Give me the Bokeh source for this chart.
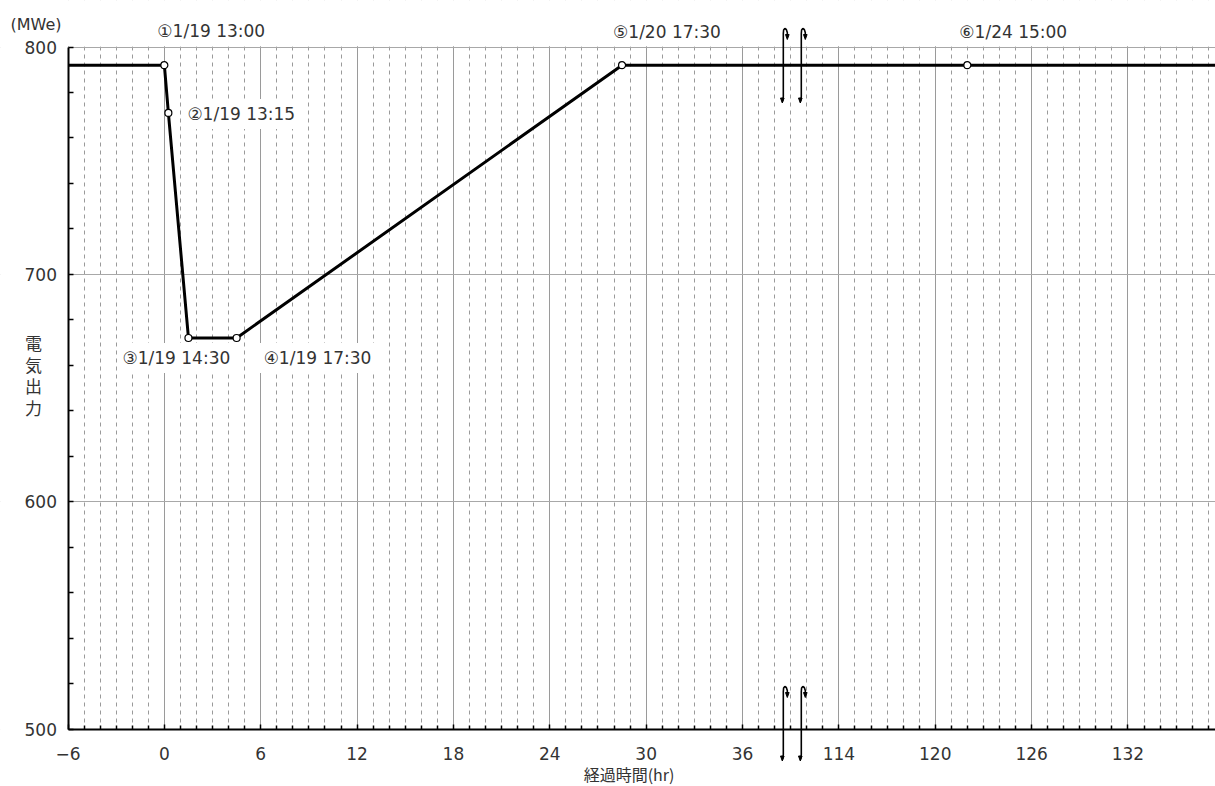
from bokeh.plotting import figure
from bokeh.models import FixedTicker, Label, Range1d
from bokeh.embed import file_html
from bokeh.resources import INLINE

# ---------------- data ----------------
line_hours = [-6, 0, 0.25, 1.5, 4.5, 28.5, 122, 138]
line_mw = [792, 792, 771, 672, 672, 792, 792, 792]

event_hours = [0, 0.25, 1.5, 4.5, 28.5, 122]
event_mw = [792, 771, 672, 672, 792, 792]
event_labels = ["①1/19 13:00", "②1/19 13:15", "③1/19 14:30",
                "④1/19 17:30", "⑤1/20 17:30", "⑥1/24 15:00"]

x_tick_hours = [-6, 0, 6, 12, 18, 24, 30, 36, 114, 120, 126, 132]
y_ticks = [500, 600, 700, 800]
y_unit = "(MWe)"
y_title = ["電", "気", "出", "力"]
x_title = "経過時間(hr)"

# axis break: hours 40..111 are skipped
SKIP = 72
BREAK_AT = 39.1
X_MIN, Y_MIN, Y_MAX = -6, 500, 800


def pos(h):
    return h if h < 60 else h - SKIP


def hour_label(h):
    return "−6" if h == -6 else str(h)


# ---------------- styles / layout ----------------
W, H = 1215, 786
FRAME_L, FRAME_T, FRAME_B = 67.5, 46.5, 728.5   # pixel positions of -6 / 800 / 500
PX_U = 16.06
PX_MW = (FRAME_B - FRAME_T) / (Y_MAX - Y_MIN)
X0 = X_MIN - FRAME_L / PX_U
X1 = X_MIN + (W - FRAME_L) / PX_U
Y1 = Y_MAX + FRAME_T / PX_MW
Y0 = Y_MIN - (H - FRAME_B) / PX_MW

label_style = [  # x_offset, y_offset, background
    (-7, 34, None), (14, -1, "white"), (-71, -20, "white"),
    (22, -20, "white"), (-9, 33, None), (-8, 33, None)]
TXT = "#333333"
NUM_FONT = "DejaVu Sans"
CJK_FONT = "Noto Sans CJK JP"

p = figure(width=W, height=H, output_backend="svg", toolbar_location=None,
           x_range=Range1d(X0, X1), y_range=Range1d(Y0, Y1),
           min_border_left=0, min_border_right=0, min_border_top=0,
           min_border_bottom=0)
p.outline_line_color = None
p.background_fill_color = "white"

major_pos = [pos(h) for h in x_tick_hours]
minor_pos = [u for u in range(-5, 66) if u not in major_pos]
p.xaxis.ticker = FixedTicker(ticks=major_pos, minor_ticks=minor_pos)
p.xaxis.major_label_overrides = {pos(h): hour_label(h) for h in x_tick_hours}
p.xgrid.ticker = FixedTicker(ticks=major_pos, minor_ticks=minor_pos)
p.yaxis.ticker = FixedTicker(ticks=y_ticks,
                             minor_ticks=[v for v in range(500, 801, 20) if v not in y_ticks])
p.ygrid.ticker = FixedTicker(ticks=y_ticks)

p.xaxis.fixed_location = Y_MIN
p.yaxis.fixed_location = X_MIN
p.xaxis.bounds = (X_MIN, 70)
p.yaxis.bounds = (Y_MIN, Y_MAX)
p.xgrid.bounds = (-20, 90)
p.ygrid.bounds = (400, 900)

for ax in (p.xaxis, p.yaxis):
    ax.axis_line_color = "black"
    ax.axis_line_width = 2
    ax.major_tick_line_color = "black"
    ax.minor_tick_line_color = "black"
    ax.major_tick_line_width = 1.5
    ax.minor_tick_line_width = 1.5
    ax.major_tick_out = 0
    ax.minor_tick_out = 0
    ax.major_label_text_font = NUM_FONT
    ax.major_label_text_font_size = "17px"
    ax.major_label_text_color = TXT

p.xaxis.major_tick_in = 5
p.xaxis.minor_tick_in = 4
p.yaxis.major_tick_in = 5
p.yaxis.minor_tick_in = 5
p.xaxis.major_label_standoff = 18
p.yaxis.major_label_standoff = 11

p.xgrid.grid_line_color = "#9a9a9a"
p.xgrid.grid_line_width = 1
p.xgrid.minor_grid_line_color = "#9a9a9a"
p.xgrid.minor_grid_line_dash = "4 4"
p.xgrid.minor_grid_line_width = 1
p.ygrid.grid_line_color = "#a8a8a8"
p.ygrid.grid_line_width = 1.2

# white masks: keep grid lines inside the 500..800 / -6.. box
eps = 0.7 / PX_MW
p.quad(left=[X0 - 1, X0 - 1, X0 - 1], right=[X1 + 1, X1 + 1, X_MIN],
       bottom=[Y_MAX + eps, Y0 - 1, Y0 - 1], top=[Y1 + 1, Y_MIN, Y1 + 1],
       fill_color="white", line_color=None)

# main line
p.line([pos(h) for h in line_hours], line_mw, line_color="black", line_width=3)
p.scatter([pos(h) for h in event_hours], event_mw, size=7, marker="circle",
          fill_color="white", line_color="black", line_width=1.2)


# axis-break symbols (pixel-shaped decorations)
def break_symbol(xc, top_mw, hpx):
    path = [(4, 9), (4, 4), (3, 1), (1.5, 0), (0.3, 1.5), (0, 5), (0, hpx - 6),
            (-0.5, hpx - 2.5), (-1, hpx - 1)]
    p.line([xc + dx / PX_U for dx, dy in path], [top_mw - dy / PX_MW for dx, dy in path],
           line_color="black", line_width=1.6)
    for tri in ([(2.2, 6), (5.8, 6), (4, 11)],
                [(-2.8, hpx - 4.5), (0.8, hpx - 4.5), (-1, hpx + 0.5)]):
        p.patch([xc + dx / PX_U for dx, dy in tri], [top_mw - dy / PX_MW for dx, dy in tri],
                fill_color="black", line_color="black", line_width=1)


for dxu in (-0.56, 0.56):
    break_symbol(BREAK_AT + dxu, Y_MAX + (FRAME_T - 28) / PX_MW, 74)
    break_symbol(BREAK_AT + dxu, Y_MIN + (FRAME_B - 686) / PX_MW, 74)

# event labels
for h, v, t, (xo, yo, bg) in zip(event_hours, event_mw, event_labels, label_style):
    lab = Label(x=pos(h), y=v, text=t, x_offset=xo, y_offset=yo,
                text_font=NUM_FONT, text_font_size="17px", text_color=TXT,
                text_align="left", text_baseline="middle")
    if bg:
        lab.background_fill_color = bg
        lab.padding = 5
    p.add_layout(lab)

# titles
p.add_layout(Label(x=X_MIN, y=Y_MAX, x_offset=-57.5, y_offset=23, text=y_unit,
                   text_font=NUM_FONT, text_font_size="16px", text_color=TXT,
                   text_align="left", text_baseline="middle"))
for i, ch in enumerate(y_title):
    p.add_layout(Label(x=X_MIN, y=700, x_offset=-34.5, y_offset=-68 - 21.7 * i,
                       text=ch, text_font=CJK_FONT, text_font_size="17px",
                       text_color=TXT, text_align="center", text_baseline="middle"))
p.add_layout(Label(x=30, y=Y_MIN, x_offset=-62.5, y_offset=-45, text=x_title,
                   text_font=CJK_FONT, text_font_size="16px", text_color=TXT,
                   text_align="left", text_baseline="middle"))

open("out.html", "w").write(file_html(p, INLINE))
